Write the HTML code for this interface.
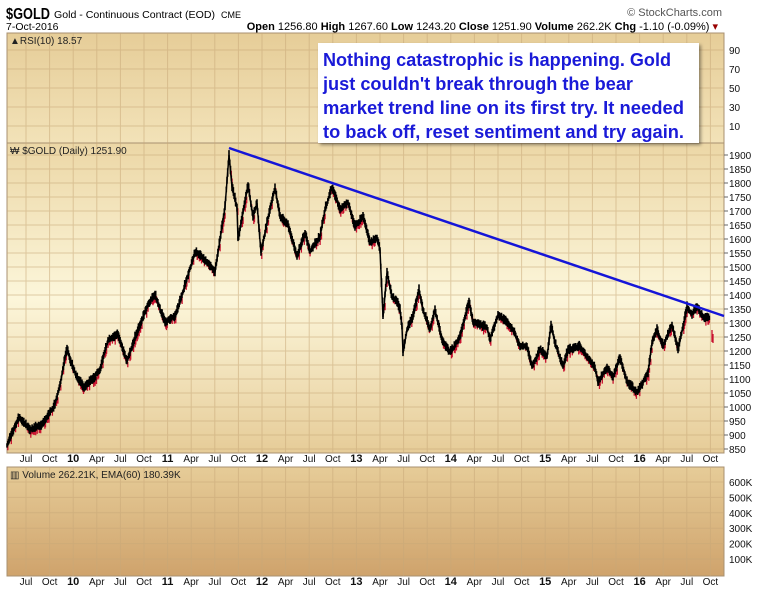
<!DOCTYPE html>
<html><head><meta charset="utf-8"><style>
html,body{margin:0;padding:0;background:#fff;width:758px;height:594px;overflow:hidden;font-family:"Liberation Sans",sans-serif}
svg{display:block}
</style></head><body>
<svg id="s" width="758" height="594" xmlns="http://www.w3.org/2000/svg" font-family="Liberation Sans, sans-serif">
<defs>
<linearGradient id="gr" x1="0" y1="0" x2="0" y2="1"><stop offset="0" stop-color="#e6cd98"/><stop offset="1" stop-color="#f2e2b8"/></linearGradient>
<linearGradient id="gp" x1="0" y1="0" x2="0" y2="1"><stop offset="0" stop-color="#ecd7a6"/><stop offset="0.5" stop-color="#fcf6da"/><stop offset="1" stop-color="#e6cc98"/></linearGradient>
<linearGradient id="gv" x1="0" y1="0" x2="0" y2="1"><stop offset="0" stop-color="#e6cc98"/><stop offset="1" stop-color="#cfa36c"/></linearGradient>
<filter id="sh"><feDropShadow dx="2" dy="2" stdDeviation="1.5" flood-color="#000" flood-opacity="0.4"/></filter>
</defs>
<text x="6" y="19" font-size="16" font-weight="bold" textLength="44" lengthAdjust="spacingAndGlyphs">$GOLD</text>
<text x="54" y="18" font-size="10.5" textLength="161" lengthAdjust="spacingAndGlyphs">Gold - Continuous Contract (EOD)</text>
<text x="221" y="18" font-size="9">CME</text>
<text x="6" y="30" font-size="10.5">7-Oct-2016</text>
<text x="722" y="16" font-size="11" text-anchor="end" fill="#555">© StockCharts.com</text>
<text x="718" y="30" font-size="11" text-anchor="end"><tspan font-weight="bold">Open</tspan> 1256.80 <tspan font-weight="bold">High</tspan> 1267.60 <tspan font-weight="bold">Low</tspan> 1243.20 <tspan font-weight="bold">Close</tspan> 1251.90 <tspan font-weight="bold">Volume</tspan> 262.2K <tspan font-weight="bold">Chg</tspan> -1.10 (-0.09%) <tspan fill="#900">▾</tspan></text>
<rect x="7" y="33" width="717" height="110" fill="url(#gr)" stroke="#a89070"/>
<rect x="7" y="143" width="717" height="310" fill="url(#gp)" stroke="#a89070"/>
<rect x="7" y="467" width="717" height="109" fill="url(#gv)" stroke="#a89070"/>
<g id="grid" stroke="#c8a878" stroke-width="1" opacity="0.55"></g>
<g id="labels" font-size="10" fill="#111"></g>
<text x="10" y="44" font-size="10" fill="#222">▲RSI(10) 18.57</text>
<text x="10" y="154" font-size="10" fill="#222">₩ $GOLD (Daily) 1251.90</text>
<text x="10" y="478" font-size="10" fill="#222">▥ Volume 262.21K, EMA(60) 180.39K</text>
<g id="price"></g>
<line x1="229" y1="148" x2="724" y2="316" stroke="#1515d8" stroke-width="2.5"/>
<rect x="318" y="43" width="381" height="100" fill="#fff" filter="url(#sh)"/>
<g font-size="18" font-weight="bold" fill="#1a1ad8">
<text x="323" y="66" textLength="348" lengthAdjust="spacingAndGlyphs">Nothing catastrophic is happening. Gold</text>
<text x="323" y="90" textLength="310" lengthAdjust="spacingAndGlyphs">just couldn't break through the bear</text>
<text x="323" y="114" textLength="361" lengthAdjust="spacingAndGlyphs">market trend line on its first try. It needed</text>
<text x="323" y="138" textLength="361" lengthAdjust="spacingAndGlyphs">to back off, reset sentiment and try again.</text>
</g>
</svg>
<script>
var S="http://www.w3.org/2000/svg";
function el(p,t,a,txt){var e=document.createElementNS(S,t);for(var k in a)e.setAttribute(k,a[k]);if(txt!=null)e.textContent=txt;document.getElementById(p).appendChild(e);return e;}
var names=["Jul","Oct","10","Apr","Jul","Oct","11","Apr","Jul","Oct","12","Apr","Jul","Oct","13","Apr","Jul","Oct","14","Apr","Jul","Oct","15","Apr","Jul","Oct","16","Apr","Jul","Oct"];
for(var q=0;q<30;q++){var x=26+23.6*q;
 [[33,143],[143,453],[467,576]].forEach(function(r){el("grid","line",{x1:x,y1:r[0],x2:x,y2:r[1]});});
 var b=/\d/.test(names[q]);
 [462,585].forEach(function(y){el("labels","text",{x:x,y:y,"text-anchor":"middle","font-weight":b?"bold":"normal","font-size":b?11:10},names[q]);});
}
for(var p=850;p<=1900;p+=50){var y=449-(p-850)*0.28;
 el("grid","line",{x1:7,y1:y,x2:724,y2:y});
 el("labels","line",{x1:724,y1:y,x2:728,y2:y,stroke:"#666"});
 el("labels","text",{x:729,y:y+4},String(p));}
[90,70,50,30,10].forEach(function(v,i){var y=50+i*19;el("grid","line",{x1:7,y1:y,x2:724,y2:y});
 el("labels","text",{x:729,y:y+4},String(v));});
["600K","500K","400K","300K","200K","100K"].forEach(function(v,i){var y=482+i*15.4;el("grid","line",{x1:7,y1:y,x2:724,y2:y});
 el("labels","text",{x:729,y:y+4},v);});
var P=[[7,445],[19,418],[30,430],[42,425],[55,405],[60,385],[67,348],[70,360],[78,380],[84,388],[95,377],[100,370],[108,340],[118,335],[127,362],[135,338],[148,305],[155,295],[165,323],[175,317],[182,295],[195,253],[200,255],[215,272],[220,240],[225,207],[229,155],[232,187],[237,208],[238,240],[248,185],[253,217],[257,203],[261,253],[267,223],[275,188],[280,217],[288,225],[297,257],[305,233],[310,252],[320,237],[325,210],[332,187],[340,210],[348,203],[355,227],[363,217],[370,243],[377,238],[380,250],[383,317],[387,273],[392,297],[397,302],[400,310],[402,327],[403,353],[407,330],[413,317],[419,290],[423,310],[430,330],[435,310],[442,340],[450,353],[460,337],[469,302],[473,323],[480,325],[487,328],[490,340],[498,315],[507,323],[513,330],[520,347],[527,347],[532,367],[540,350],[547,357],[551,325],[555,343],[563,367],[568,350],[580,347],[587,357],[595,368],[598,383],[607,368],[613,377],[620,358],[627,382],[637,393],[643,383],[648,373],[652,343],[657,330],[663,347],[672,325],[678,350],[683,327],[687,307],[692,315],[697,307],[703,318],[710,318]];
var seed=7;function rnd(){seed=(seed*16807)%2147483647;return seed/2147483647;}
var red="",blk="";
for(var i=0;i<P.length-1;i++){var a=P[i],b=P[i+1];var n=Math.max(1,Math.round((b[0]-a[0])/0.7));
 for(var j=0;j<n;j++){var t=j/n;var x=a[0]+(b[0]-a[0])*t,y=a[1]+(b[1]-a[1])*t;var h=2.5+rnd()*3;var o=(rnd()-0.5)*2;
  blk+="M"+x.toFixed(1)+" "+(y+o-h).toFixed(1)+"V"+(y+o+h*0.7).toFixed(1);
  if(rnd()<0.35)red+="M"+(x+0.8).toFixed(1)+" "+(y+o).toFixed(1)+"V"+(y+o+h+2).toFixed(1);}}
red+="M712 330V342M713 334V343";
el("price","path",{d:red,stroke:"#c8102e","stroke-width":1.3,fill:"none"});
el("price","path",{d:blk,stroke:"#000","stroke-width":1.6,fill:"none"});
el("price","polyline",{points:P.map(function(p){return p[0]+","+p[1];}).join(" "),stroke:"#000","stroke-width":1.5,fill:"none"});
</script>
</body></html>
